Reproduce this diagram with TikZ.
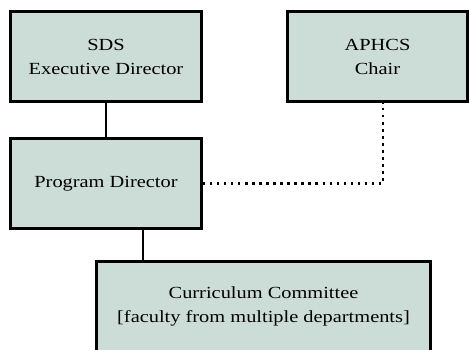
\documentclass[tikz,border=0pt]{standalone}
\usepackage{xcolor}
\usepackage{tikz}
\usetikzlibrary{shapes.geometric}
\usepackage{fontspec}
\setmainfont{Liberation Serif}[FakeStretch=1.2]
\definecolor{boxfill}{RGB}{204,220,214}

\begin{document}
\begin{tikzpicture}[
	orgbox/.style={shape=rectangle, draw=black, line width=2.56pt, fill=boxfill, align=center, font=\fontsize{14.5}{20.5}\selectfont, text=black},
	wire/.style={line width=2.1pt},
	dotwire/.style={line width=2pt, dash pattern=on 2pt off 4pt}]
    		\useasboundingbox (0, 0) rectangle (14.07, 10.47);
    		% Paths, nodes and wires:
    		\node[orgbox, minimum width=5.73cm, minimum height=2.7cm](N1) at (3.18, 8.775){SDS\\Executive Director};
    		\node[orgbox, minimum width=5.4cm, minimum height=2.7cm](N2) at (11.325, 8.775){APHCS\\Chair};
    		\node[orgbox, minimum width=5.73cm, minimum height=2.7cm](N3) at (3.18, 4.965){Program Director};
    		\node[orgbox, minimum width=10.02cm, minimum height=2.7cm](N4) at (7.905, 1.275){Curriculum Committee\\{}[faculty from multiple departments]};
    		\draw[wire] (N1.south) -- (N3.north);
    		\draw[wire] ([xshift=1.11cm]N3.south) -- ([xshift=1.11cm]N3.south |- N4.north);
    		\draw[dotwire] (N3.east) -| ([xshift=0.165cm]N2.south);
    	\end{tikzpicture}
\end{document}
